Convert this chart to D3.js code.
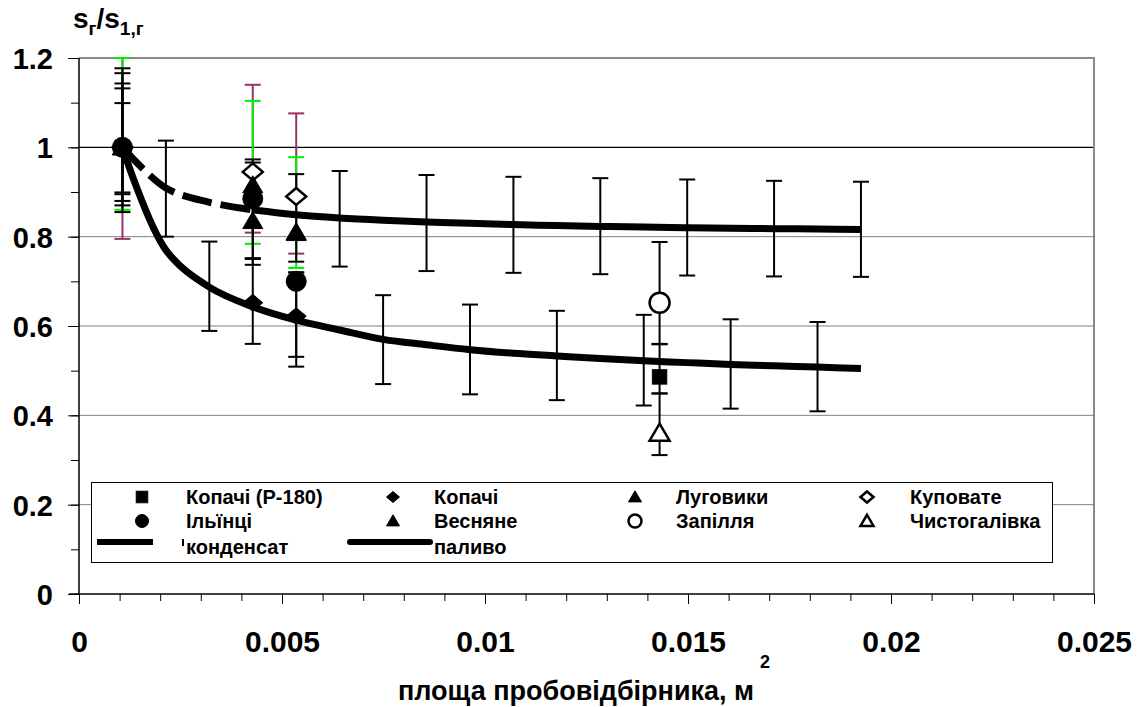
<!DOCTYPE html>
<html><head><meta charset="utf-8">
<script src="https://cdn.jsdelivr.net/npm/d3@7"></script>
<style>
body{margin:0;background:#fff}
text{font-family:"Liberation Sans",Arial,sans-serif;font-weight:bold;fill:#000}
</style>
</head><body>
<svg id="c" width="1146" height="707"></svg>
<script>
// ---------- data ----------
const curveX = [0.00107,0.00214,0.00321,0.00428,0.00535,0.00642,0.00749,0.00856,0.00963,0.0107,0.01177,0.01284,0.01391,0.01498,0.01605,0.01712,0.01819,0.01926];
const condensate = [1.0,0.909,0.877,0.86,0.849,0.842,0.837,0.833,0.83,0.827,0.825,0.823,0.8215,0.82,0.819,0.818,0.817,0.816];
const fuel = [1.0,0.77,0.687,0.643,0.613,0.591,0.57,0.558,0.547,0.539,0.533,0.527,0.522,0.518,0.514,0.511,0.508,0.505];

// error bars of the condensate curve
const condBarX  = [0.00214,0.00428,0.00642,0.00856,0.0107,0.01284,0.01498,0.01712,0.01926];
const condBarLo = [0.80,0.752,0.733,0.723,0.719,0.716,0.713,0.711,0.710];
const condBarHi = [1.015,0.966,0.947,0.938,0.934,0.931,0.928,0.925,0.923];
// error bars of the fuel curve
const fuelBarX  = [0.00107,0.00321,0.00535,0.00749,0.00963,0.01177,0.01391,0.01605,0.01819];
const fuelBarLo = [0.899,0.589,0.509,0.470,0.447,0.434,0.422,0.415,0.409];
const fuelBarHi = [1.099,0.789,0.72,0.669,0.648,0.634,0.625,0.615,0.609];

// error bars of the measured points
const ptBarX     = [0.00107,0.00107,0.00107,0.00107,0.00107,0.00107,0.00428,0.00428,0.00428,0.00428,0.00535,0.00535,0.00535,0.00535,0.0143,0.0143,0.0143];
const ptBarLo    = [0.795,0.86,0.87,0.88,0.895,0.855,0.809,0.784,0.737,0.56,0.762,0.73,0.744,0.531,0.559,0.449,0.311];
const ptBarHi    = [1.2,1.2,1.177,1.166,1.143,1.132,1.14,1.104,0.973,0.75,1.076,0.978,0.94,0.72,0.788,0.56,0.449];
const ptBarColor = ["#993366","#00ee00","#000","#000","#000","#000","#993366","#00ee00","#000","#000","#993366","#00ee00","#000","#000","#000","#000","#000"];

// measured points
const kopachiP180X = [0.00107,0.0143];          const kopachiP180Y = [1.0,0.486];
const kopachiX = [0.00107,0.00428,0.00535];       const kopachiY = [1.0,0.652,0.622];
const luhovykyX = [0.00107,0.00428,0.00535];      const luhovykyY = [1.0,0.915,0.81];
const kupovateX = [0.00107,0.00428,0.00535];      const kupovateY = [1.0,0.945,0.89];
const vesnyaneX = [0.00107,0.00428,0.00535];      const vesnyaneY = [1.0,0.835,0.808];
const ilyintsiX = [0.00107,0.00428,0.00535];      const ilyintsiY = [1.0,0.885,0.70];
const zapillyaX = [0.0143];                        const zapillyaY = [0.652];
const chystX = [0.0143];                           const chystY = [0.36];

const xTicks = [0,0.005,0.01,0.015,0.02,0.025];
const xTickLabels = ["0","0.005","0.01","0.015","0.02","0.025"];
const yTicks = [0,0.2,0.4,0.6,0.8,1,1.2];
const yTickLabels = ["0","0.2","0.4","0.6","0.8","1","1.2"];

const legendLabels = ["Копачі (P-180)","Копачі","Луговики","Куповате","Ільїнці","Весняне","Запілля","Чистогалівка","конденсат","паливо"];

// ---------- layout ----------
const L=79, R=1094, T=58, B=594;
const svg = d3.select("#c");
const x = d3.scaleLinear().domain([0,0.025]).range([L,R]);
const y = d3.scaleLinear().domain([0,1.2]).range([B,T]);

// grid
const grid = svg.append("g");
[0.2,0.4,0.6,0.8].forEach(v=>{
  grid.append("line").attr("x1",L).attr("x2",R).attr("y1",y(v)).attr("y2",y(v)).attr("stroke","#808080").attr("stroke-width",1);
});
grid.append("line").attr("x1",L).attr("x2",R).attr("y1",y(1)).attr("y2",y(1)).attr("stroke","#000").attr("stroke-width",1.2);
svg.append("path").attr("d",`M${L},${y(1.2)}H${R}V${B}`).attr("fill","none").attr("stroke","#8a8a8a").attr("stroke-width",2);

// axes
const yAxisMinor = d3.axisLeft(y).tickValues(d3.range(0,1.21,0.1)).tickSize(8).tickFormat("");
svg.append("g").attr("transform",`translate(${L},0)`).call(yAxisMinor)
  .call(g=>{g.select(".domain").remove(); g.selectAll("line").attr("stroke","#000");});
const yAxis = d3.axisLeft(y).tickValues(yTicks).tickSize(11).tickFormat((d,i)=>yTickLabels[i]);
svg.append("g").attr("transform",`translate(${L},0)`).call(yAxis)
  .call(g=>{g.select(".domain").remove(); g.selectAll("line").attr("stroke","#000");
    g.selectAll("text").attr("x",-26).attr("dy","0.36em").style("font-size","29px").style("font-family","Liberation Sans, Arial").style("font-weight","bold");});
svg.append("line").attr("x1",L).attr("x2",L).attr("y1",T).attr("y2",B).attr("stroke","#000").attr("stroke-width",1.5);

const xAxisMinor = d3.axisBottom(x).tickValues(d3.range(0,0.02501,0.001)).tickSize(7).tickFormat("");
svg.append("g").attr("transform",`translate(0,${B})`).call(xAxisMinor)
  .call(g=>{g.select(".domain").remove(); g.selectAll("line").attr("stroke","#000");});
const xAxis = d3.axisBottom(x).tickValues(xTicks).tickSize(10).tickFormat((d,i)=>xTickLabels[i]);
svg.append("g").attr("transform",`translate(0,${B})`).call(xAxis)
  .call(g=>{g.select(".domain").remove(); g.selectAll("line").attr("stroke","#000");
    g.selectAll("text").attr("y",47).attr("dy","0.36em").style("font-size","30px").style("font-family","Liberation Sans, Arial").style("font-weight","bold");});
svg.append("line").attr("x1",L-10).attr("x2",R).attr("y1",B).attr("y2",B).attr("stroke","#000").attr("stroke-width",1.5);

// titles
const yt = svg.append("text").attr("x",73).attr("y",28).style("font-size","28px");
yt.append("tspan").text("s");
yt.append("tspan").attr("dy",7).style("font-size","19px").text("г");
yt.append("tspan").attr("dy",-7).text("/s");
yt.append("tspan").attr("dy",7).style("font-size","19px").text("1,г");

const xt = svg.append("text").attr("x",584).attr("y",700).attr("text-anchor","middle").style("font-size","27px");
xt.append("tspan").text("площа пробовідбірника, м");
xt.append("tspan").attr("dx",6).attr("dy",-32).style("font-size","18px").text("2");

// ---------- error bars ----------
const eb = svg.append("g");
function errBar(xv, lo, hi, col){
  const px=x(xv), cw=8;
  const g=eb.append("g").attr("stroke",col).attr("stroke-width",2).attr("fill","none");
  g.append("line").attr("x1",px).attr("x2",px).attr("y1",y(lo)).attr("y2",y(hi));
  g.append("line").attr("x1",px-cw).attr("x2",px+cw).attr("y1",y(lo)).attr("y2",y(lo));
  g.append("line").attr("x1",px-cw).attr("x2",px+cw).attr("y1",y(hi)).attr("y2",y(hi));
}
ptBarX.forEach((v,i)=>{ if(ptBarColor[i]!=="#000") errBar(v,ptBarLo[i],ptBarHi[i],ptBarColor[i]); });
ptBarX.forEach((v,i)=>{ if(ptBarColor[i]==="#000") errBar(v,ptBarLo[i],ptBarHi[i],"#000"); });
condBarX.forEach((v,i)=>errBar(v,condBarLo[i],condBarHi[i],"#000"));
fuelBarX.forEach((v,i)=>errBar(v,fuelBarLo[i],fuelBarHi[i],"#000"));

// ---------- curves ----------
const line = d3.line().x(d=>x(d[0])).y(d=>y(d[1])).curve(d3.curveCatmullRom.alpha(0.5));
const condPts = curveX.map((v,i)=>[v,condensate[i]]);
const fuelPts = curveX.map((v,i)=>[v,fuel[i]]);
svg.append("path").attr("d",line(fuelPts)).attr("fill","none").attr("stroke","#000").attr("stroke-width",7);
svg.append("path").attr("d",line(condPts.slice(0,4))).attr("fill","none").attr("stroke","#000").attr("stroke-width",7).attr("stroke-dasharray","30,9");
svg.append("path").attr("d",line(condPts.slice(3))).attr("fill","none").attr("stroke","#000").attr("stroke-width",7);

// ---------- markers ----------
function marker(g, type, cx, cy, s, filled){
  let p;
  if(type==="square") p=g.append("rect").attr("x",cx-s*0.72).attr("y",cy-s*0.72).attr("width",s*1.44).attr("height",s*1.44);
  else if(type==="circle") p=g.append("circle").attr("cx",cx).attr("cy",cy).attr("r",s);
  else if(type==="diamond") p=g.append("path").attr("d",`M${cx},${cy-s*0.85}L${cx+s},${cy}L${cx},${cy+s*0.85}L${cx-s},${cy}Z`);
  else if(type==="triangle") p=g.append("path").attr("d",`M${cx},${cy-s*0.95}L${cx+s},${cy+s*0.75}L${cx-s},${cy+s*0.75}Z`);
  if(filled) p.attr("fill","#000").attr("stroke","#000").attr("stroke-width",1);
  else p.attr("fill","#fff").attr("stroke","#000").attr("stroke-width",2.5);
}
const mk = svg.append("g");
const series = [
  {X:kupovateX,Y:kupovateY,t:"diamond",f:false},
  {X:kopachiX,Y:kopachiY,t:"diamond",f:true},
  {X:vesnyaneX,Y:vesnyaneY,t:"triangle",f:true},
  {X:luhovykyX,Y:luhovykyY,t:"triangle",f:true},
  {X:ilyintsiX,Y:ilyintsiY,t:"circle",f:true},
  {X:kopachiP180X,Y:kopachiP180Y,t:"square",f:true},
  {X:zapillyaX,Y:zapillyaY,t:"circle",f:false},
  {X:chystX,Y:chystY,t:"triangle",f:false}
];
series.forEach(s=>s.X.forEach((v,i)=>marker(mk,s.t,x(v),y(s.Y[i]),10,s.f)));

// ---------- legend ----------
const lg = svg.append("g");
lg.append("rect").attr("x",91.5).attr("y",482.5).attr("width",961).attr("height",80).attr("fill","#fff").attr("stroke","#000").attr("stroke-width",1);
const colMk = [142,393,635,867], colTx = [186,434,676,910], rowY=[497,521,545];
const legItems = [
  {c:0,r:0,t:"square",f:true,l:0},{c:1,r:0,t:"diamond",f:true,l:1},{c:2,r:0,t:"triangle",f:true,l:2},{c:3,r:0,t:"diamond",f:false,l:3},
  {c:0,r:1,t:"circle",f:true,l:4},{c:1,r:1,t:"triangle",f:true,l:5},{c:2,r:1,t:"circle",f:false,l:6},{c:3,r:1,t:"triangle",f:false,l:7}
];
legItems.forEach(it=>{
  marker(lg,it.t,colMk[it.c],rowY[it.r],it.t==="square"?8:6.5,it.f);
  lg.append("text").attr("x",colTx[it.c]).attr("y",rowY[it.r]).attr("dy","0.36em").style("font-size","20px").text(legendLabels[it.l]);
});
lg.append("line").attr("x1",97).attr("x2",153).attr("y1",rowY[2]-3).attr("y2",rowY[2]-3).attr("stroke","#000").attr("stroke-width",6);
lg.append("rect").attr("x",182).attr("y",rowY[2]-6).attr("width",2).attr("height",7).attr("fill","#000");
lg.append("line").attr("x1",350).attr("x2",430).attr("y1",rowY[2]-3).attr("y2",rowY[2]-3).attr("stroke","#000").attr("stroke-width",6).attr("stroke-linecap","round");
lg.append("text").attr("x",186).attr("y",rowY[2]+2).attr("dy","0.36em").style("font-size","20px").text(legendLabels[8]);
lg.append("text").attr("x",434).attr("y",rowY[2]+2).attr("dy","0.36em").style("font-size","20px").text(legendLabels[9]);
</script>
</body></html>
